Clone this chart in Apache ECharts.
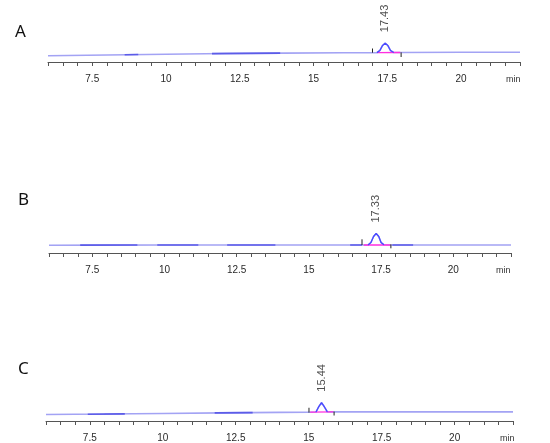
<!DOCTYPE html>
<html>
<head>
<meta charset="utf-8">
<script src="https://cdn.jsdelivr.net/npm/echarts@6/dist/echarts.min.js"></script>
<style>
html,body{margin:0;padding:0;background:#fff;}
#chart{width:550px;height:443px;}
</style>
</head>
<body>
<div id="chart"></div>
<script>
// ---------- DATA ----------
const panelNames = ['A', 'B', 'C'];
const axisUnit = 'min';

// Panel A trace
const aTime   = [6, 8, 10, 12, 14, 16, 17.0, 17.15, 17.25, 17.34, 17.43, 17.52, 17.61, 17.72, 18, 20, 22];
const aSignal = [6.3, 7.0, 7.8, 8.5, 8.9, 9.2, 9.3, 9.4, 11.5, 16.5, 18.8, 16.5, 11.5, 9.5, 9.5, 9.7, 9.8];
const aPeak = 17.43;
const aPeakHeight = 18.8;
const aPeakRange = [17.15, 17.72];
const aTickTimes = [17.0, 17.97];
const aTickLow   = [9.3, 5.0];
const aTickHigh  = [13.5, 9.6];
const aIntBase   = [[17.16, 9.4], [17.94, 9.5]];
const aDark      = [[[8.6, 7.3], [9.06, 7.5]], [[11.56, 8.4], [13.87, 8.9]]];

// Panel B trace
const bTime   = [6, 8, 10, 12, 14, 16, 16.84, 17.05, 17.15, 17.24, 17.33, 17.42, 17.5, 17.6, 17.84, 20, 22];
const bSignal = [7.8, 7.9, 8.0, 8.0, 8.0, 8.0, 8.0, 8.1, 10.5, 16.5, 19.5, 16.5, 10.5, 8.2, 8.0, 8.0, 8.0];
const bPeak = 17.33;
const bPeakHeight = 19.5;
const bPeakRange = [17.05, 17.6];
const bTickTimes = [16.84, 17.84];
const bTickLow   = [8.0, 4.7];
const bTickHigh  = [13.7, 8.7];
const bIntBase   = [[16.9, 8.0], [17.82, 8.0]];
const bDark      = [[[7.08, 7.9], [9.06, 7.95]], [[9.75, 8.0], [11.17, 8.0]], [[12.17, 8.0], [13.84, 8.0]], [[16.43, 8.0], [16.84, 8.0]], [[17.89, 8.0], [18.61, 8.0]]];

// Panel C trace
const cTime   = [6, 8, 10, 12, 14, 15.0, 15.25, 15.34, 15.44, 15.54, 15.64, 15.87, 18, 20, 22];
const cSignal = [6.7, 7.2, 7.8, 8.4, 8.9, 9.1, 9.3, 14.5, 19.0, 14.5, 9.4, 9.4, 9.4, 9.4, 9.4];
const cPeak = 15.44;
const cPeakHeight = 19.0;
const cPeakRange = [15.25, 15.64];
const cTickTimes = [15.01, 15.87];
const cTickLow   = [8.7, 5.7];
const cTickHigh  = [13.7, 9.7];
const cIntBase   = [[15.05, 9.2], [15.85, 9.4]];
const cDark      = [[[7.43, 7.0], [8.7, 7.4]], [[11.78, 8.4], [13.08, 8.7]]];

// Axis range (minutes)
const xMin = 6, xMax = 22, tickStep = 0.5, labelStep = 2.5, labelFirst = 7.5, labelLast = 20;

// ---------- LAYOUT ----------
const layout = [
  {left: 48, right: 30, top: 32, height: 30, letterLeft: 10, letterTop: 19, nameGap: -14},
  {left: 49, right: 39, top: 223, height: 30, letterLeft: 13, letterTop: 187, nameGap: -15},
  {left: 46, right: 37, top: 392, height: 30, letterLeft: 13, letterTop: 356, nameGap: -13}
];

const panels = [
  {time: aTime, signal: aSignal, peak: aPeak, peakH: aPeakHeight, range: aPeakRange, ticks: aTickTimes, lo: aTickLow, hi: aTickHigh, intBase: aIntBase, dark: aDark},
  {time: bTime, signal: bSignal, peak: bPeak, peakH: bPeakHeight, range: bPeakRange, ticks: bTickTimes, lo: bTickLow, hi: bTickHigh, intBase: bIntBase, dark: bDark},
  {time: cTime, signal: cSignal, peak: cPeak, peakH: cPeakHeight, range: cPeakRange, ticks: cTickTimes, lo: cTickLow, hi: cTickHigh, intBase: cIntBase, dark: cDark}
];

const lightBlue = '#a3a3f4';
const darkBlue = '#5c5ce8';
const peakBlue = '#4a4aff';
const pink = '#ff2ee0';
const axisGray = '#555';
const font = 'Liberation Sans, Arial, sans-serif';

const grids = [], xAxes = [], yAxes = [], series = [], titles = [];

panels.forEach((p, i) => {
  const L = layout[i];
  grids.push({left: L.left, right: L.right, top: L.top, height: L.height, containLabel: false});
  titles.push({text: panelNames[i], left: L.letterLeft, top: L.letterTop,
    textStyle: {fontFamily: 'Noto Sans, sans-serif', fontSize: 17, fontWeight: 'normal', color: '#111'}});
  xAxes.push({
    type: 'value', gridIndex: i, min: xMin, max: xMax, interval: tickStep,
    name: axisUnit, nameLocation: 'end', nameGap: L.nameGap,
    nameTextStyle: {fontFamily: font, fontSize: 9, color: '#333', verticalAlign: 'top', align: 'left', padding: [13, 0, 0, 0]},
    axisLine: {show: true, lineStyle: {color: axisGray, width: 1}},
    axisTick: {show: true, length: 4, lineStyle: {color: axisGray, width: 1}},
    axisLabel: {
      show: true, margin: 12, fontFamily: font, fontSize: 10, color: '#2a2a2a',
      showMinLabel: true, showMaxLabel: true,
      formatter: v => {
        const r = Math.abs(v / labelStep - Math.round(v / labelStep));
        return (r < 1e-6 && v >= labelFirst - 1e-6 && v <= labelLast + 1e-6) ? String(+v.toFixed(2)) : '';
      }
    },
    splitLine: {show: false}
  });
  yAxes.push({type: 'value', gridIndex: i, min: 0, max: 30, show: false});

  const pts = p.time.map((t, k) => [t, p.signal[k]]);
  // full trace (light baseline)
  series.push({type: 'line', xAxisIndex: i, yAxisIndex: i, data: pts, symbol: 'none', silent: true,
    lineStyle: {color: lightBlue, width: 1.6}, z: 2});
  // darker baseline segments
  p.dark.forEach(seg => series.push({type: 'line', xAxisIndex: i, yAxisIndex: i, data: seg, symbol: 'none', silent: true,
    lineStyle: {color: darkBlue, width: 1.6}, z: 3}));
  // integration baseline
  series.push({type: 'line', xAxisIndex: i, yAxisIndex: i, data: p.intBase, symbol: 'none', silent: true,
    lineStyle: {color: pink, width: 1.3}, z: 4});
  // peak portion
  series.push({type: 'line', xAxisIndex: i, yAxisIndex: i,
    data: pts.filter(d => d[0] >= p.range[0] && d[0] <= p.range[1]), symbol: 'none', silent: true,
    lineStyle: {color: peakBlue, width: 1.3}, z: 5});
  // integration tick marks
  p.ticks.forEach((t, k) => series.push({type: 'line', xAxisIndex: i, yAxisIndex: i,
    data: [[t, p.lo[k]], [t, p.hi[k]]], symbol: 'none', silent: true,
    lineStyle: {color: '#222', width: 1}, z: 6}));
  // retention time label
  series.push({type: 'scatter', xAxisIndex: i, yAxisIndex: i, data: [[p.peak, p.peakH]], symbolSize: 0, silent: true,
    label: {show: true, position: 'top', distance: 11, rotate: 90, align: 'left', verticalAlign: 'middle',
      fontFamily: font, fontSize: 11, color: '#222', formatter: d => d.value[0].toFixed(2)}, z: 7});
});

const chart = echarts.init(document.getElementById('chart'), null, {renderer: 'canvas'});
chart.setOption({
  animation: false,
  backgroundColor: '#fff',
  title: titles,
  grid: grids,
  xAxis: xAxes,
  yAxis: yAxes,
  series: series
});
</script>
</body>
</html>
